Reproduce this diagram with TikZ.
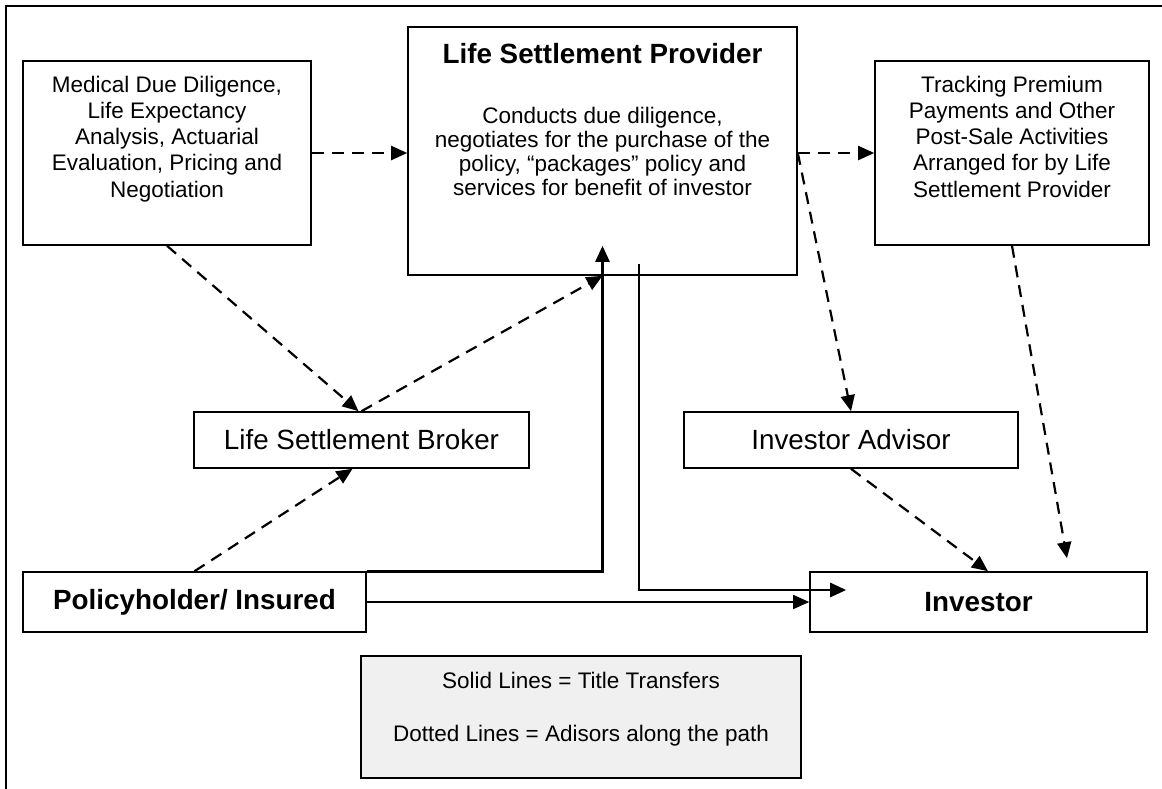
\documentclass[tikz,border=0pt]{standalone}
\usepackage{fontspec}
\setmainfont{Liberation Sans}
\usetikzlibrary{arrows.meta,calc}
\begin{document}
\begin{tikzpicture}[x=1pt,y=-1pt,
  box/.style={draw, line width=1.6pt, fill=white, inner sep=0pt},
  bodytext/.style={align=center, inner sep=0pt, font=\fontsize{22.5}{26.25}\selectfont},
  labeltext/.style={font=\fontsize{27.8}{32}\selectfont},
  boldtext/.style={font=\fontsize{27.8}{32}\selectfont\bfseries},
  tip/.style={-{Triangle[length=16pt,width=14pt]}},
  advice/.style={tip, line width=2.2pt, dash pattern=on 12pt off 8pt},
  titleline/.style={tip, line width=2.6pt},
]
\useasboundingbox (0,0) rectangle (1162,789);

% outer frame (top and left edges)
\draw[line width=2pt] (5.5,789) -- (5.5,6) -- (1162,6);

% upper row
\node[box, minimum width=288pt, minimum height=184pt] (med) at (167,153) {};
\node[bodytext, anchor=north] (medtxt) at (167,75.6)
  {Medical Due Diligence,\\Life Expectancy\\Analysis, Actuarial\\Evaluation, Pricing and\\Negotiation};

\node[box, minimum width=389pt, minimum height=248pt] (prov) at (602.5,151) {};
\node[boldtext, anchor=north, inner sep=0pt] (provtitle) at (602.5,42.7) {Life Settlement Provider};
\node[bodytext, anchor=north, font=\fontsize{22.5}{24}\selectfont] (provtxt) at (602.5,106.6)
  {Conducts due diligence,\\negotiates for the purchase of the\\policy, “packages” policy and\\services for benefit of investor};

\node[box, minimum width=274pt, minimum height=184pt] (track) at (1012,153) {};
\node[bodytext, anchor=north] (tracktxt) at (1012,75.6)
  {Tracking Premium\\Payments and Other\\Post-Sale Activities\\Arranged for by Life\\Settlement Provider};

% middle row
\node[box, labeltext, minimum width=335pt, minimum height=56pt] (broker) at (361.5,440) {Life Settlement Broker};
\node[box, labeltext, minimum width=334pt, minimum height=56pt] (adv) at (851,440) {Investor Advisor};

% lower row
\node[box, boldtext, minimum width=343pt, minimum height=60pt] (pol) at (194.5,602) {Policyholder/ Insured};
\node[box, boldtext, minimum width=337pt, minimum height=60pt] (inv) at (978.5,602) {Investor};

% legend
\node[box, fill={rgb,255:red,240;green,240;blue,240}, minimum width=440pt, minimum height=122pt] (legend) at (581,717) {};
\node[bodytext, anchor=north] (legendtxt) at (581,671.6)
  {Solid Lines = Title Transfers\\[27pt]Dotted Lines = Adisors along the path};

% advisory (dashed) connectors
\draw[advice] (med.east) -- (med.east -| prov.west);
\draw[advice] (track.west -| prov.east) -- (track.west);
\draw[advice] (med.south) -- ($(broker.north)+(-3,0)$);
\draw[advice] (broker.north) -- (prov.south);
\draw[advice] (pol.north) -- ($(broker.south)+(-9,0)$);
\draw[advice] (track.west -| prov.east) -- (adv.north);
\draw[advice] (adv.south) -- ($(inv.north)+(9.5,0)$);
\draw[advice] (track.south) -- ($(inv.north)+(88.5,-13)$);

% title transfers (solid)
\draw[titleline] (pol.north east) -| ($(prov.south)+(0,-30)$);
\draw[titleline] ($(prov.south)+(36.5,-12)$) |- ($(inv.west)+(37,-12)$);
\draw[tip, line width=1.5pt] (pol.east) -- (inv.west);
\end{tikzpicture}
\end{document}
